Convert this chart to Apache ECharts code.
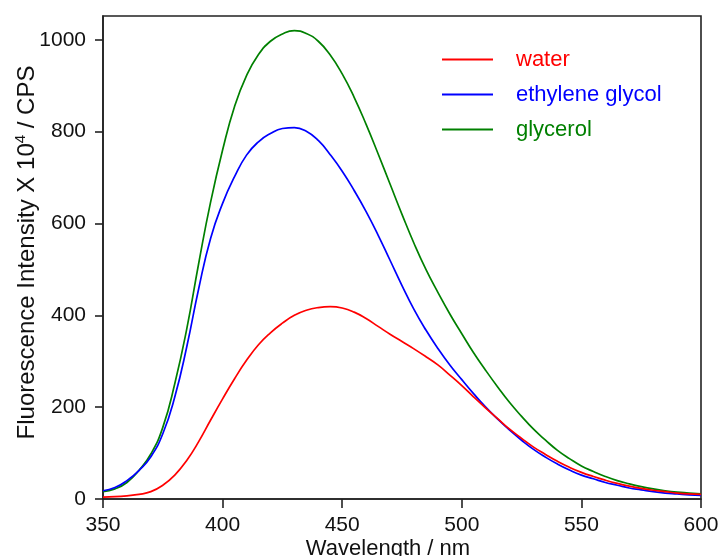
<!DOCTYPE html>
<html>
<head>
<meta charset="utf-8">
<script src="https://cdn.jsdelivr.net/npm/echarts@6/dist/echarts.min.js"></script>
<style>
  html, body { margin: 0; padding: 0; background: #ffffff; }
  #chart { width: 722px; height: 556px; }
</style>
</head>
<body>
<div id="chart"></div>
<script>
// Emission wavelengths (nm), 5 nm steps
const wavelengths = [350,355,360,365,370,375,380,385,390,395,400,405,410,415,420,425,430,435,440,445,450,455,460,465,470,475,480,485,490,495,500,505,510,515,520,525,530,535,540,545,550,555,560,565,570,575,580,585,590,595,600];

// Fluorescence intensity (x10^4 CPS)
const water = [4,5,7,10,16,30,52,84,125,172,218,262,302,336,362,383,400,411,417,419,416,407,393,376,359,343,327,310,292,270,247,222,198,175,152,132,113,97,82,69,58,49,41,34,28,23,19,16,13,11,10];
const ethyleneGlycol = [18,25,40,62,92,142,222,331,458,568,644,702,749,778,796,807,809,801,781,750,714,672,626,575,520,465,413,368,328,292,260,229,200,174,150,128,108,91,76,63,52,44,36,30,24,20,16,13,11,9,8];
const glycerol = [16,22,36,62,98,156,251,370,513,647,760,855,922,968,997,1013,1020,1014,997,967,926,875,816,752,686,620,557,500,450,403,360,318,280,244,210,180,152,128,106,88,72,60,49,40,33,27,22,18,15,13,11];

const seriesNames = ['water', 'ethylene glycol', 'glycerol'];
const seriesColors = ['#ff0000', '#0000ff', '#008000'];
const seriesValues = [water, ethyleneGlycol, glycerol];

const xTicks = [350, 400, 450, 500, 550, 600];
const yTicks = [0, 200, 400, 600, 800, 1000];

const chart = echarts.init(document.getElementById('chart'), null, { renderer: 'canvas' });

const font = 'Liberation Sans, Arial, Helvetica, sans-serif';

chart.setOption({
  animation: false,
  backgroundColor: '#ffffff',
  grid: {
    left: 103, right: 21, top: 16, bottom: 57,
    outerBoundsMode: 'none',
    containLabel: false,
    show: true, borderColor: '#222222', borderWidth: 1.6, backgroundColor: 'transparent'
  },
  legend: {
    orient: 'vertical',
    left: 437, top: 43,
    icon: 'rect',
    itemWidth: 51, itemHeight: 2,
    itemGap: 12,
    textStyle: { fontFamily: font, fontSize: 22, lineHeight: 23, padding: [0, 0, 0, 18] },
    data: seriesNames.map((n, i) => ({ name: n, textStyle: { color: seriesColors[i] } }))
  },
  xAxis: {
    type: 'value',
    min: 350, max: 600, interval: 50,
    name: 'Wavelength / nm',
    nameLocation: 'middle',
    nameGap: 39,
    nameMoveOverlap: false,
    nameTextStyle: { fontFamily: font, fontSize: 22, color: '#111111', padding: [0, 28, 0, 0] },
    axisLine: { show: true, lineStyle: { color: '#222222', width: 1.6 } },
    axisTick: { show: true, inside: false, length: 9, lineStyle: { color: '#222222', width: 1.6 }, customValues: xTicks },
    axisLabel: { fontFamily: font, fontSize: 21, color: '#111111', margin: 16, customValues: xTicks, formatter: v => String(v) },
    splitLine: { show: false }
  },
  yAxis: {
    type: 'value',
    min: 0, max: 1052, interval: 200,
    name: '{t|Fluorescence Intensity X 10}{sup|4}{t| / CPS}',
    nameLocation: 'middle',
    nameGap: 62,
    nameRotate: 90,
    nameMoveOverlap: false,
    nameTextStyle: {
      fontFamily: font, fontSize: 24, color: '#111111', padding: [0, 0, 0, 10],
      rich: {
        t: { fontFamily: font, fontSize: 24, color: '#111111', lineHeight: 28 },
        sup: { fontFamily: font, fontSize: 15, color: '#111111', lineHeight: 28, verticalAlign: 'top' }
      }
    },
    axisLine: { show: true, lineStyle: { color: '#222222', width: 1.6 } },
    axisTick: { show: true, inside: false, length: 8, lineStyle: { color: '#222222', width: 1.6 }, customValues: yTicks },
    axisLabel: { fontFamily: font, fontSize: 21, color: '#111111', margin: 17, customValues: yTicks, formatter: v => String(v) },
    splitLine: { show: false }
  },
  series: seriesNames.map((n, i) => ({
    name: n,
    type: 'line',
    data: wavelengths.map((w, k) => [w, seriesValues[i][k]]),
    smooth: 0.5,
    showSymbol: false,
    symbol: 'none',
    color: seriesColors[i],
    lineStyle: { color: seriesColors[i], width: 1.7 },
    z: 3 - i
  }))
});
</script>
</body>
</html>
